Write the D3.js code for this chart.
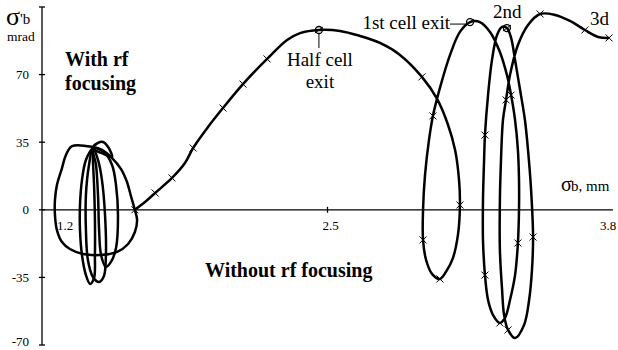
<!DOCTYPE html>
<head>
  <meta charset="utf-8">
  <script src="https://d3js.org/d3.v7.min.js"></script>
</head>
<style>
  body { margin: 0; background: #fff; }
  svg { font-family: "Liberation Serif", "Times New Roman", serif; background: #fff; }
  .axis line { stroke: #000; stroke-width: 1.3; }
  .curve { fill: none; stroke: #000; stroke-width: 2.5; stroke-linejoin: round; }
  .mark { fill: none; stroke: #000; stroke-width: 1; }
  .ticklabel { font-size: 13px; }
  .big { font-size: 20px; font-weight: bold; }
  .note { font-size: 19px; }
</style>
<body>
<div id="chart"></div>
<script>
'use strict';

var xTicks = [1.2, 2.5, 3.8];
var yTicks = [105, 70, 35, 0, -35, -70];
var yTickLabels = ["", "70", "35", "0", "-35", "-70"];

// [sigma_b mm, sigma'_b mrad] with rf focusing, entrance -> 3d cell
var withRf = [
  [1.623,0],[1.669,4.0],[1.715,8.7],[1.792,16.5],[1.851,24.2],[1.888,32.0],[1.956,42.9],
  [2.024,52.7],[2.115,65.1],[2.225,78.1],[2.316,87.9],[2.375,91.5],[2.461,93.1],[2.557,92.6],
  [2.648,90.0],[2.739,86.4],[2.830,80.2],[2.930,68.8],[2.999,57.4],[3.049,43.9],[3.081,31.0],
  [3.099,15.4],[3.103,2.5],[3.094,-13.0],[3.071,-25.0],[3.044,-31.2],[3.012,-35.8],[2.976,-33.2],
  [2.949,-26.0],[2.935,-15.6],[2.935,0],[2.944,18.0],[2.962,36.1],[2.980,48.6],[3.012,63.1],
  [3.058,80.2],[3.103,92.1],[3.149,97.2],[3.194,97.2],[3.240,92.1],[3.285,81.7],[3.317,69.8],
  [3.336,59.4],[3.354,46.5],[3.367,31.0],[3.372,15.4],[3.372,0],[3.367,-17.2],[3.354,-33.8],
  [3.331,-46.7],[3.308,-56.0],[3.285,-58.6],[3.254,-54.5],[3.231,-46.7],[3.217,-33.8],
  [3.208,-15.6],[3.208,5.1],[3.213,25.8],[3.217,38.7],[3.231,59.4],[3.249,77.6],[3.272,90.5],
  [3.295,94.7],[3.317,94.1],[3.336,89.0],[3.354,77.6],[3.377,62.0],[3.399,46.5],[3.413,31.0],
  [3.427,10.3],[3.436,-14.1],[3.431,-31.2],[3.418,-46.7],[3.395,-59.6],[3.354,-66.4],
  [3.322,-62.2],[3.304,-54.5],[3.295,-41.5],[3.285,-20.8],[3.285,5.1],[3.290,25.8],[3.299,46.5],
  [3.313,56.9],[3.331,69.8],[3.367,85.3],[3.413,95.7],[3.468,101.4],[3.536,100.9],[3.604,97.8],
  [3.672,93.1],[3.732,89.5],[3.782,89.0]
];
// which points carry an "x" marker, and which are the cell exits
var crossAt = [0,2,3,5,7,8,9,17,22,26,29,33,42,47,51,54,58,70,75,82,86,89,91];
var exitAt = [12, 37, 63];

// without rf focusing: loops near the entrance
var noRfOuter = [
  [1.432,32.5],[1.337,33.0],[1.309,28.4],[1.291,21.6],[1.268,12.8],[1.259,5.1],[1.259,-2.7],
  [1.268,-10.5],[1.291,-16.7],[1.327,-20.3],[1.387,-22.9],[1.464,-23.4],[1.542,-21.8],
  [1.592,-17.7],[1.623,-11.5],[1.633,-5.3],[1.623,-0.1],[1.605,7.1],[1.587,14.4],[1.560,21.1],
  [1.519,26.8],[1.473,31.0]
];
var noRfEar = [[1.432,32.0],[1.455,34.6],[1.478,35.1],[1.501,32.5],[1.519,27.3],[1.482,28.9],[1.450,30.4]];
var noRfLoop1 = [
  [1.432,32.0],[1.400,25.8],[1.382,15.4],[1.373,2.5],[1.373,-10.5],[1.382,-23.4],[1.400,-33.8],
  [1.419,-38.4],[1.437,-35.3],[1.441,-23.4],[1.441,-5.3],[1.437,12.8],[1.432,25.8]
];
var noRfLoop2 = [
  [1.432,32.0],[1.414,23.2],[1.400,7.7],[1.400,-10.5],[1.409,-26.0],[1.432,-34.8],[1.460,-37.4],
  [1.482,-34.3],[1.491,-23.4],[1.487,-2.7],[1.473,15.4],[1.455,25.8]
];
var noRfLoop3 = [
  [1.432,32.0],[1.446,23.2],[1.455,7.7],[1.460,-10.5],[1.469,-23.4],[1.491,-29.6],[1.514,-27.0],
  [1.537,-19.8],[1.546,-2.7],[1.537,12.8],[1.519,23.2],[1.482,29.9]
];

var width = 618, height = 350;
var x = d3.scaleLinear().domain([1.2, 3.8]).range([42, 613]);
var y = d3.scaleLinear().domain([-70, 105]).range([345, 7]);

var svg = d3.select("#chart").append("svg").attr("width", width).attr("height", height);

// axes
var yAxis = svg.append("g").attr("class", "axis");
yAxis.append("line").attr("x1", x(1.2)).attr("x2", x(1.2)).attr("y1", y(105)).attr("y2", y(-70));
yAxis.selectAll(".t").data(yTicks).enter().append("line")
  .attr("x1", x(1.2) - 3).attr("x2", x(1.2) + 3)
  .attr("y1", d => y(d)).attr("y2", d => y(d));
yAxis.selectAll("text").data(yTicks).enter().append("text")
  .attr("class", "ticklabel")
  .attr("x", 29).attr("y", d => Math.min(y(d), height - 9)).attr("dy", "0.35em")
  .attr("text-anchor", "end")
  .text((d, i) => yTickLabels[i]);

var xAxis = svg.append("g").attr("class", "axis");
xAxis.append("line").attr("x1", x(1.2)).attr("x2", x(3.8)).attr("y1", y(0)).attr("y2", y(0));
xAxis.selectAll(".t").data([2.5]).enter().append("line")
  .attr("x1", d => x(d)).attr("x2", d => x(d)).attr("y1", y(0) - 3).attr("y2", y(0) + 3);
var xLabelShift = [23, 3, -5];
xAxis.selectAll("text").data(xTicks).enter().append("text")
  .attr("class", "ticklabel")
  .attr("x", (d, i) => x(d) + xLabelShift[i]).attr("y", y(0) + 20)
  .attr("text-anchor", "middle")
  .text(d => d.toFixed(1));

// axis titles
svg.append("text").attr("x", 6).attr("y", 25).style("font-size", "26px").text("σ");
svg.append("text").attr("x", 20).attr("y", 24).style("font-size", "15px").text("'b");
svg.append("text").attr("x", 7).attr("y", 41).style("font-size", "13.5px").text("mrad");
svg.append("text").attr("x", 561).attr("y", 191).style("font-size", "20px").text("σ");
svg.append("text").attr("x", 571).attr("y", 191).style("font-size", "15px").text("b, mm");

// curves
var pathLine = d3.line().x(d => x(d[0])).y(d => y(d[1])).curve(d3.curveCatmullRom.alpha(0.5));
var loopLine = d3.line().x(d => x(d[0])).y(d => y(d[1])).curve(d3.curveCatmullRomClosed.alpha(0.5));

[noRfOuter, noRfEar, noRfLoop1, noRfLoop2, noRfLoop3].forEach(function(loop) {
  svg.append("path").attr("class", "curve").attr("d", loopLine(loop));
});

svg.append("path").attr("class", "curve").attr("d", pathLine(withRf));

// markers
svg.append("g").selectAll("path").data(crossAt).enter().append("path")
  .attr("class", "mark")
  .attr("transform", i => "translate(" + x(withRf[i][0]) + "," + y(withRf[i][1]) + ")")
  .attr("d", "M-3.5,-3.5L3.5,3.5M-3.5,3.5L3.5,-3.5");

var exits = svg.append("g").selectAll("g").data(exitAt).enter().append("g")
  .attr("transform", i => "translate(" + x(withRf[i][0]) + "," + y(withRf[i][1]) + ")");
exits.append("circle").attr("class", "mark").attr("r", 3.5).style("stroke-width", 1.3);
exits.append("path").attr("class", "mark").attr("d", "M-4,3L4,-3");

// annotations
var half = withRf[exitAt[0]], first = withRf[exitAt[1]], second = withRf[exitAt[2]];
svg.append("line").attr("class", "mark")
  .attr("x1", x(half[0])).attr("x2", x(half[0])).attr("y1", y(half[1]) + 3).attr("y2", y(half[1]) + 18);
svg.append("text").attr("class", "note").attr("text-anchor", "middle")
  .attr("x", x(half[0]) + 1).attr("y", 66).text("Half cell");
svg.append("text").attr("class", "note").attr("text-anchor", "middle")
  .attr("x", x(half[0]) + 1).attr("y", 88).text("exit");

svg.append("line").attr("class", "mark")
  .attr("x1", x(first[0]) - 20).attr("x2", x(first[0]) - 4).attr("y1", y(first[1]) + 2).attr("y2", y(first[1]) + 2);
svg.append("text").attr("class", "note").attr("text-anchor", "end")
  .attr("x", x(first[0]) - 20).attr("y", 29).text("1st cell exit");
svg.append("text").attr("class", "note").attr("x", x(second[0]) - 14).attr("y", 18).text("2nd");
svg.append("text").attr("class", "note").attr("x", 590).attr("y", 25).text("3d");

svg.append("text").attr("class", "big").attr("x", 65).attr("y", 66).text("With rf");
svg.append("text").attr("class", "big").attr("x", 65).attr("y", 90).text("focusing");
svg.append("text").attr("class", "big").attr("x", 205).attr("y", 277).text("Without rf focusing");
</script>
</body>
